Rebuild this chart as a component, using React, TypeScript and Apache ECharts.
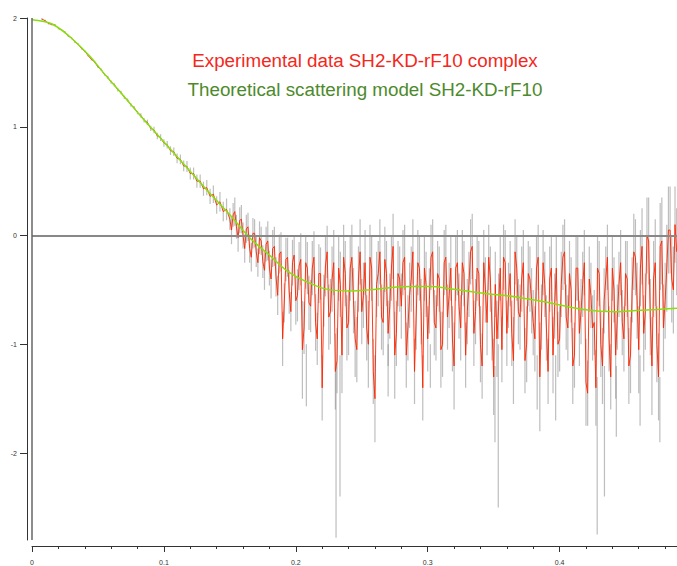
import React, { useEffect, useRef } from "react";
import * as echarts from "echarts";

// q grid of the experimental curve (evenly spaced measurement points)
const Q_START = 0.0075;
const Q_STEP = 0.0025;

const expI = [
  1.99, 1.975, 1.95, 1.94, 1.935, 1.905, 1.89, 1.87, 1.835, 1.815,
  1.78, 1.76, 1.72, 1.695, 1.655, 1.62, 1.595, 1.55, 1.525, 1.48,
  1.455, 1.41, 1.385, 1.34, 1.315, 1.27, 1.245, 1.2, 1.175, 1.13,
  1.105, 1.06, 1.04, 0.985, 0.97, 0.915, 0.9, 0.85, 0.835, 0.78,
  0.77, 0.71, 0.7, 0.64, 0.635, 0.57, 0.57, 0.5, 0.5, 0.43,
  0.44, 0.36, 0.38, 0.28, 0.31, 0.22, 0.24, 0.15, 0.19, 0.08,
  0.14, 0.0, 0.06, -0.12, 0.02, -0.15, -0.02, -0.24, -0.08, -0.3,
  -0.12, -0.38, -0.17, -0.95, -0.22, -0.52, -0.25, -0.6, -0.28, -1.05,
  -0.25, -0.62, -0.3, -0.8, -0.35, -1.4, -0.28, -0.75, -0.4, -1.25,
  -0.3, -1.1, -0.35, -0.8, -0.2, -0.95, -0.4, -0.7, -0.25, -1.0,
  -0.3, -1.5, -0.35, -0.75, -0.22, -0.9, -0.3, -1.1, -0.35, -0.65,
  -0.2, -0.85, -0.4, -1.25, -0.25, -0.7, -0.3, -0.95, -0.2, -0.8,
  -0.35, -1.05, -0.25, -0.75, -0.3, -1.2, -0.25, -0.85, -0.35, -0.7,
  -0.15, -0.9, -0.3, -1.0, -0.25, -0.8, -0.4, -1.3, -0.95, -0.3,
  -0.2, -0.9, -0.35, -1.15, -0.3, -0.75, -0.25, -1.0, -0.4, -0.8,
  -0.3, -1.3, -0.25, -0.85, -0.4, -1.1, -0.3, -0.95, -0.2, -0.75,
  -0.35, -1.2, -0.3, -0.9, -0.45, -1.35, -0.4, -0.85, -1.4, -0.35,
  -1.2, -0.4, -0.95, -0.3, -1.1, -0.45, -0.8, -0.35, -1.2, -0.5,
  -0.2, -1.05, -0.1, -0.7, -0.05, -1.2, -0.25, -1.3, -0.05, -0.6,
  0.05, -0.4, 0.1,
];

// Error half-widths of the main-grid points
const expErr = [
  0.01, 0.01, 0.01, 0.01, 0.01, 0.01, 0.01, 0.01, 0.01, 0.01,
  0.01, 0.01, 0.01, 0.01, 0.01, 0.01, 0.01, 0.01, 0.01, 0.01,
  0.015, 0.015, 0.015, 0.015, 0.015, 0.015, 0.015, 0.015, 0.015, 0.015,
  0.02, 0.02, 0.025, 0.025, 0.03, 0.03, 0.03, 0.035, 0.035, 0.04,
  0.04, 0.045, 0.045, 0.05, 0.05, 0.055, 0.055, 0.06, 0.06, 0.065,
  0.07, 0.07, 0.08, 0.08, 0.09, 0.09, 0.1, 0.1, 0.11, 0.11,
  0.12, 0.12, 0.13, 0.13, 0.14, 0.14, 0.15, 0.15, 0.16, 0.16,
  0.17, 0.18, 0.18, 0.25, 0.2, 0.2, 0.21, 0.22, 0.22, 0.45,
  0.24, 0.25, 0.25, 0.26, 0.27, 0.3, 0.28, 0.3, 0.3, 0.35,
  0.3, 0.35, 0.3, 0.3, 0.3, 0.35, 0.3, 0.3, 0.3, 0.4,
  0.3, 0.4, 0.3, 0.3, 0.3, 0.3, 0.3, 0.4, 0.3, 0.3,
  0.3, 0.3, 0.3, 0.3, 0.3, 0.3, 0.3, 0.3, 0.3, 0.3,
  0.3, 0.35, 0.3, 0.3, 0.3, 0.4, 0.3, 0.3, 0.3, 0.3,
  0.3, 0.3, 0.3, 0.35, 0.3, 0.3, 0.3, 0.35, 0.35, 0.3,
  0.3, 0.3, 0.3, 0.4, 0.3, 0.3, 0.3, 0.35, 0.3, 0.3,
  0.3, 0.5, 0.3, 0.3, 0.3, 0.35, 0.3, 0.3, 0.3, 0.3,
  0.3, 0.35, 0.3, 0.3, 0.3, 0.4, 0.3, 0.3, 0.35, 0.3,
  0.35, 0.3, 0.3, 0.3, 0.4, 0.3, 0.3, 0.3, 0.35, 0.3,
  0.35, 0.4, 0.35, 0.35, 0.4, 0.45, 0.4, 0.4, 0.4, 0.35,
  0.4, 0.4, 0.35,
];

// Intermediate points (half a step after each grid point) in the noisy range
const MID_START = 0.15125;
const expIMid = [
  0.05, 0.22, -0.02, 0.15, -0.12, 0.08, -0.2, 0.02, -0.25, -0.05,
  -0.32, -0.05, -0.4, -0.1, -0.55, -0.15, -0.62, -0.2, -0.7, -0.18,
  -0.55, -0.22, -0.85, -0.3, -0.65, -0.2, -0.95, -0.35, -0.6, -0.15,
  -0.7, -0.25, -1.15, -0.45, -0.2, -0.85, -0.3, -0.6, -1.05, -0.15,
  -0.55, -0.85, -0.2, -1.25, -0.45, -0.15, -0.8, -0.35, -0.65, -0.1,
  -0.9, -0.4, -0.25, -1.1, -0.55, -0.15, -0.75, -0.3, -1.4, -0.45,
  -0.6, -0.15, -0.85, -0.4, -1.0, -0.2, -0.55, -0.95, -0.3, -0.65,
  -0.25, -1.1, -0.45, -0.1, -0.7, -0.35, -1.2, -0.5, -0.2, -0.85,
  -0.45, -0.65, -1.05, -0.25, -0.55, -0.9, -0.15, -0.7, -0.4, -1.15,
  -0.35, -0.6, -0.95, -0.2, -0.75, -0.45, -1.25, -0.3, -0.65, -1.0,
  -0.45, -0.15, -0.85, -0.5, -1.1, -0.3, -0.7, -0.25, -1.45, -0.55,
  -0.8, -0.3, -1.0, -0.6, -0.2, -1.3, -0.5, -0.75, -0.25, -0.95,
  -0.4, -1.1, -0.15, -0.6, -0.3, -0.9, 0.0, -0.75, -0.4, -1.0,
  -0.1, -0.85, -0.3, 0.05, -0.5, -0.15,
];
// Error half-width of the intermediate points, one value per block of ten
const midErrBand = [0.13, 0.18, 0.24, 0.3, 0.3, 0.3, 0.3, 0.3, 0.3, 0.3, 0.3, 0.3, 0.35, 0.4];

// Long outlier error bars: [q, top, bottom]
const outlierBars = [
  [0.208, -1.0, -1.57],
  [0.2305, -1.2, -2.78],
  [0.2335, -1.1, -2.4],
  [0.27, -1.0, -1.48],
  [0.302, -1.0, -1.4],
  [0.351, -1.2, -1.9],
  [0.3535, -1.0, -2.5],
  [0.383, -1.1, -1.6],
  [0.397, -1.1, -1.7],
  [0.4285, -1.3, -2.75],
  [0.434, -1.2, -2.4],
  [0.443, -1.2, -1.85],
  [0.461, -1.1, -1.75],
  [0.476, -1.3, -1.9],
];

// Theoretical scattering model
const modelQ = [
  0, 0.008, 0.016, 0.0285, 0.0437, 0.056, 0.069, 0.083, 0.0896, 0.1,
  0.131, 0.15, 0.165, 0.18, 0.195, 0.211, 0.226, 0.241, 0.256, 0.271,
  0.287, 0.302, 0.317, 0.342, 0.367, 0.393, 0.418, 0.443, 0.458, 0.474, 0.489,
];
const modelI = [
  1.985, 1.97, 1.94, 1.83, 1.65, 1.47, 1.29, 1.09, 1.0, 0.86,
  0.44, 0.19, -0.02, -0.18, -0.34, -0.44, -0.5, -0.51, -0.5, -0.48,
  -0.47, -0.47, -0.49, -0.53, -0.565, -0.62, -0.68, -0.7, -0.69, -0.68, -0.67,
];

const xMajorTicks = [0, 0.1, 0.2, 0.3, 0.4];
const xMinorTicks = [
  0.02, 0.04, 0.06, 0.08, 0.12, 0.14, 0.16, 0.18, 0.22, 0.24, 0.26, 0.28,
  0.32, 0.34, 0.36, 0.38, 0.42, 0.44, 0.46, 0.48,
];
const yMajorTicks = [-2, -1, 0, 1, 2];
const yMinorTicks = [
  -2.8, -2.6, -2.4, -2.2, -1.8, -1.6, -1.4, -1.2, -0.8, -0.6, -0.4, -0.2,
  0.2, 0.4, 0.6, 0.8, 1.2, 1.4, 1.6, 1.8,
];

const titleExp = "Experimental data SH2-KD-rF10 complex";
const titleModel = "Theoretical scattering model SH2-KD-rF10";

export default function App() {
  const ref = useRef<HTMLDivElement>(null);

  useEffect(() => {
    if (!ref.current) return;
    const chart = echarts.init(ref.current, undefined, { renderer: "svg" });

    const mainPts = expI.map((v, i) => ({ q: Q_START + Q_STEP * i, v, e: expErr[i] }));
    const midPts = expIMid.map((v, k) => ({
      q: MID_START + Q_STEP * k,
      v,
      e: midErrBand[Math.floor(k / 10)],
    }));
    const allPts = mainPts.concat(midPts).sort((a, b) => a.q - b.q);

    const expData = allPts.map((p) => [p.q, p.v]);
    const barData = allPts
      .map((p) => [p.q, p.v + p.e, p.v - p.e])
      .concat(outlierBars);
    const modelData = modelQ.map((q, i) => [q, modelI[i]]);

    const axisColor = "#333";
    const font = '"Liberation Sans", Arial, Helvetica, sans-serif';

    chart.setOption({
      animation: false,
      backgroundColor: "#fff",
      grid: { left: 32, right: 0, top: 18, bottom: 21, containLabel: false },
      xAxis: [
        {
          type: "value",
          min: 0,
          max: 0.489,
          position: "bottom",
          offset: 6,
          axisLine: { show: true, onZero: false, lineStyle: { color: axisColor, width: 1 } },
          axisTick: {
            show: true,
            customValues: xMajorTicks,
            length: 6,
            lineStyle: { color: axisColor },
          },
          axisLabel: {
            show: true,
            customValues: xMajorTicks,
            fontSize: 7,
            color: "#333",
            margin: 13,
            fontFamily: font,
          },
          splitLine: { show: false },
        },
        {
          type: "value",
          min: 0,
          max: 0.489,
          position: "bottom",
          offset: 6,
          axisLine: { show: false, onZero: false },
          axisTick: {
            show: true,
            customValues: xMinorTicks,
            length: 3,
            lineStyle: { color: axisColor },
          },
          axisLabel: { show: false },
          splitLine: { show: false },
        },
      ],
      yAxis: [
        {
          type: "value",
          min: -2.8,
          max: 2,
          offset: 5,
          axisLine: { show: true, onZero: false, lineStyle: { color: axisColor, width: 1 } },
          axisTick: {
            show: true,
            customValues: yMajorTicks,
            length: 7,
            lineStyle: { color: axisColor },
          },
          axisLabel: {
            show: true,
            customValues: yMajorTicks,
            fontSize: 7,
            color: "#333",
            margin: 10,
            fontFamily: font,
          },
          splitLine: { show: false },
        },
        {
          type: "value",
          min: -2.8,
          max: 2,
          offset: 5,
          axisLine: { show: false, onZero: false },
          axisTick: {
            show: true,
            customValues: yMinorTicks,
            length: 4,
            lineStyle: { color: axisColor },
          },
          axisLabel: { show: false },
          splitLine: { show: false },
        },
      ],
      graphic: [
        {
          type: "text",
          x: 365,
          y: 60,
          style: {
            text: titleExp,
            fill: "#f3281c",
            fontSize: 18.8,
            fontFamily: font,
            align: "center",
            verticalAlign: "middle",
          },
        },
        {
          type: "text",
          x: 365,
          y: 89,
          style: {
            text: titleModel,
            fill: "#4d8a2c",
            fontSize: 18.8,
            fontFamily: font,
            align: "center",
            verticalAlign: "middle",
          },
        },
      ],
      series: [
        {
          type: "custom",
          name: "errors",
          xAxisIndex: 0,
          yAxisIndex: 0,
          data: barData,
          encode: { x: 0, y: [1, 2] },
          clip: true,
          silent: true,
          z: 2,
          renderItem: (params: any, api: any) => {
            const q = api.value(0);
            const p1 = api.coord([q, api.value(1)]);
            const p2 = api.coord([q, api.value(2)]);
            return {
              type: "line",
              shape: { x1: p1[0], y1: p1[1], x2: p2[0], y2: p2[1] },
              style: { stroke: "rgba(125,125,125,0.5)", lineWidth: 1.2 },
            };
          },
        },
        {
          type: "line",
          name: "experimental",
          xAxisIndex: 0,
          yAxisIndex: 0,
          data: expData,
          showSymbol: false,
          symbol: "none",
          silent: true,
          z: 3,
          lineStyle: { color: "#ff2600", width: 1, opacity: 0.9 },
          markLine: {
            silent: true,
            symbol: "none",
            label: { show: false },
            data: [
              { yAxis: 0, lineStyle: { color: "#888", width: 2, type: "solid" } },
              { xAxis: 0, lineStyle: { color: "#666", width: 1.5, type: "solid" } },
            ],
          },
        },
        {
          type: "line",
          name: "model",
          xAxisIndex: 0,
          yAxisIndex: 0,
          data: modelData,
          smooth: 0.4,
          showSymbol: false,
          symbol: "none",
          silent: true,
          z: 4,
          lineStyle: { color: "#86e010", width: 1.5 },
        },
      ],
    });

    return () => chart.dispose();
  }, []);

  return (
    <div
      ref={ref}
      style={{ position: "fixed", left: 0, top: 0, width: 677, height: 566 }}
    />
  );
}
